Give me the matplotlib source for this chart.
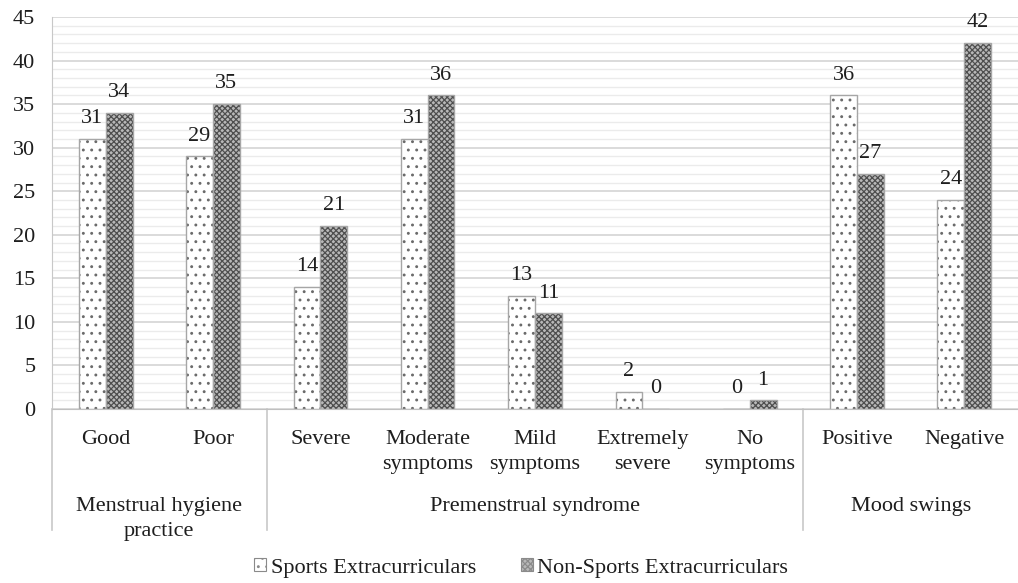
import matplotlib.pyplot as plt
import numpy as np
from matplotlib.patches import Patch
from matplotlib.lines import Line2D

plt.rcParams['font.family'] = ['Liberation Serif', 'DejaVu Serif']
plt.rcParams['hatch.linewidth'] = 0.9

categories = ['Good', 'Poor', 'Severe', 'Moderate\nsymptoms', 'Mild\nsymptoms',
              'Extremely\nsevere', 'No\nsymptoms', 'Positive', 'Negative']
groups = ['Menstrual hygiene\npractice', 'Premenstrual syndrome', 'Mood swings']
group_sizes = [2, 5, 2]
sports = [31, 29, 14, 31, 13, 2, 0, 36, 24]
non_sports = [34, 35, 21, 36, 11, 0, 1, 27, 42]
series_names = ['Sports Extracurriculars', 'Non-Sports Extracurriculars']

W, H = 1018, 583
fig = plt.figure(figsize=(W / 100, H / 100), dpi=100)
ax = fig.add_axes([52 / W, 1 - 409 / H, 1 - 52 / W, (409 - 17) / H])

x = np.arange(len(categories))
bw = 0.25
edge = '#a6a6a6'
txt = '#1e1e1e'
fs = 16

dot_kw = dict(color='white', hatch='..', edgecolor='#6a6a6a')
mesh_kw = dict(color='#b8b8b8', hatch='xxxxxx', edgecolor='#4e4e4e')

# patterned fills first, then plain outlines on top
ax.bar(x - bw / 2, sports, bw, linewidth=0, zorder=3, **dot_kw)
ax.bar(x + bw / 2, non_sports, bw, linewidth=0, zorder=3, **mesh_kw)
ax.bar(x - bw / 2, sports, bw, fill=False, edgecolor=edge, linewidth=1.0, zorder=4)
ax.bar(x + bw / 2, non_sports, bw, fill=False, edgecolor=edge, linewidth=1.0, zorder=4)

for xi, v in zip(x - bw / 2, sports):
    ax.annotate(str(v), (xi, v), xytext=(0, 14.5), textcoords='offset points',
                ha='center', va='center', fontsize=fs, color=txt)
for xi, v in zip(x + bw / 2, non_sports):
    ax.annotate(str(v), (xi, v), xytext=(0, 14.5), textcoords='offset points',
                ha='center', va='center', fontsize=fs, color=txt)

ax.set_xlim(-0.5, len(categories) - 0.5)
ax.set_ylim(0, 45)
ax.set_yticks(range(0, 46, 5))
ax.set_yticks(range(0, 46, 1), minor=True)
ax.tick_params(axis='y', which='both', length=0, labelsize=fs, labelcolor=txt, pad=12)
ax.grid(axis='y', which='minor', color='#ebebeb', linewidth=1.0, zorder=0)
ax.grid(axis='y', which='major', color='#d4d4d4', linewidth=1.2, zorder=0)
ax.set_xticks([])
for s in ['top', 'right']:
    ax.spines[s].set_visible(False)
ax.spines['left'].set_color('#c8c8c8')
ax.spines['bottom'].set_color('#c0c0c0')
ax.spines['bottom'].set_zorder(5)

# category labels and group labels below the axis
for xi, lab in zip(x, categories):
    ax.text(xi, -2.45, lab, ha='center', va='top', fontsize=fs, color=txt,
            linespacing=1.38, clip_on=False)

bounds = np.concatenate([[0], np.cumsum(group_sizes)]) - 0.5
for i, g in enumerate(groups):
    mid = (bounds[i] + bounds[i + 1]) / 2
    ax.text(mid, -10.15, g, ha='center', va='top', fontsize=fs, color=txt,
            linespacing=1.38, clip_on=False)
for b in bounds[:-1]:
    ax.add_line(Line2D([b, b], [0, -13.9], color='#c8c8c8', linewidth=1.2,
                       clip_on=False))

handles = [Patch(linewidth=0.8, **dot_kw), Patch(linewidth=0.8, **mesh_kw)]
for h in handles:
    h.set_edgecolor('#8a8a8a')
fig.legend(handles, series_names, loc='center', bbox_to_anchor=(0.512, 0.026),
           ncol=2, frameon=False, fontsize=fs, handlelength=0.55, handleheight=0.55,
           handletextpad=0.2, columnspacing=2.0, labelcolor=txt)

fig.savefig('out.png', dpi=100)
